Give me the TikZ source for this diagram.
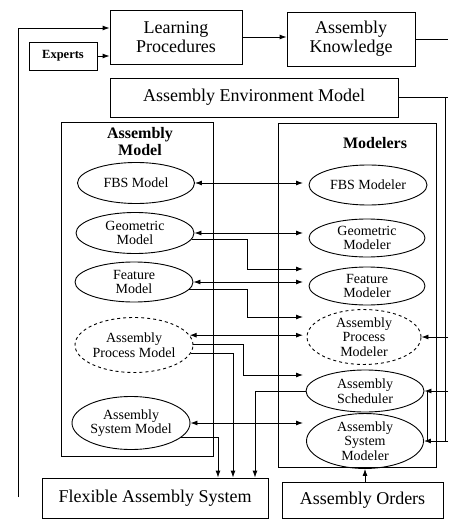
\documentclass[tikz,border=0pt]{standalone}
\usepackage{fontspec}
\setmainfont{Liberation Serif}
\usetikzlibrary{shapes.geometric,arrows.meta,calc}
\begin{document}
\begin{tikzpicture}[x=1pt,y=-1pt,
  box/.style={draw,line width=0.9pt,inner sep=0,align=center,font=\fontsize{18}{19}\selectfont},
  ell/.style={draw,ellipse,line width=0.9pt,inner sep=0,align=center,font=\fontsize{14}{14.5}\selectfont},
  grp/.style={draw,line width=0.9pt,inner sep=0},
  ttl/.style={font=\bfseries\fontsize{16}{17}\selectfont,align=center,inner sep=0},
  ln/.style={line width=0.9pt},
  arr/.style={ln,-{Latex[length=7pt,width=5pt]}},
  barr/.style={ln,{Latex[length=7pt,width=5pt]}-{Latex[length=7pt,width=5pt]}},
]
\useasboundingbox (0,0) rectangle (448,521);
\fill[white] (0,0) rectangle (448,521);

% top boxes
\node[box,minimum width=132pt,minimum height=54pt] (LP) at (176,37) {Learning\\Procedures};
\node[box,minimum width=128pt,minimum height=54pt] (AK) at (351,39) {Assembly\\Knowledge};
\node[box,font=\bfseries\fontsize{12.5}{13}\selectfont,minimum width=68pt,minimum height=28pt] (EX) at (63,56) {Experts};
\node[box,minimum width=288pt,minimum height=39pt] (AEM) at (254,97.5) {Assembly Environment Model};

% group boxes
\node[grp,minimum width=152pt,minimum height=334pt] (AM) at (137,289) {};
\node[grp,minimum width=158pt,minimum height=344pt] (MD) at (357,295) {};
\node[ttl] (AMt) at (140,142) {Assembly\\Model};
\node[ttl] (MDt) at (375,143) {Modelers};

% left ellipses
\node[ell,minimum width=117pt,minimum height=41pt] (e1) at (136,183) {FBS Model};
\node[ell,minimum width=118pt,minimum height=41pt] (e2) at (135,233) {Geometric\\Model};
\node[ell,minimum width=118pt,minimum height=40pt] (e3) at (134,282) {Feature\\Model};
\node[ell,dashed,minimum width=118pt,minimum height=55pt] (e4) at (134,345) {Assembly\\Process Model};
\node[ell,minimum width=118pt,minimum height=53pt] (e5) at (131,423) {Assembly\\System Model};

% right ellipses
\node[ell,minimum width=118pt,minimum height=40pt] (m1) at (368,185) {FBS Modeler};
\node[ell,minimum width=116pt,minimum height=38pt] (m2) at (367,238) {Geometric\\Modeler};
\node[ell,minimum width=116pt,minimum height=38pt] (m3) at (367,286) {Feature\\Modeler};
\node[ell,dashed,minimum width=114pt,minimum height=53pt] (m4) at (364,337) {Assembly\\Process\\Modeler};
\node[ell,minimum width=118pt,minimum height=42pt] (m5) at (365,391) {Assembly\\Scheduler};
\node[ell,minimum width=117pt,minimum height=48pt] (m6) at (365,441) {Assembly\\System\\Modeler};

% bottom boxes
\node[box,minimum width=226pt,minimum height=40pt] (FAS) at (155,498) {Flexible Assembly System};
\node[box,minimum width=161pt,minimum height=36pt] (AO) at (362.5,500) {Assembly Orders};

% helper coordinates
\coordinate (ax) at (303,0);
\coordinate (lb) at (18,497);
\coordinate (re) at (448,0);
\coordinate (rv) at (445,0);

% top connectors
\draw[arr] (EX.east) -- (EX.east -| LP.west);
\draw[arr] (LP.east) -- (LP.east -| AK.west);
\draw[arr] (lb) |- ($(LP.west)+(0,-9)$);
\draw[ln] (AK.east) -- (AK.east -| re);
\draw[ln] (AEM.east) -- (AEM.east -| re);
\draw[ln] (AEM.east -| rv) -- (m6.east -| rv);

% model <-> modeler
\draw[barr] (e1.east) -- (e1.east -| ax);
\draw[barr] (e2.east) -- (e2.east -| ax);
\draw[arr] (e2.-6) -| (247,269) -- (ax |- 247,269);
\draw[barr] (e3.east) -- (e3.east -| ax);
\draw[arr] (e3.-8) -| (247,317) -- (ax |- 247,317);
\draw[barr] (e4.10) -- (e4.10 -| ax);
\draw[arr] (e4.1) -| (243,375) -- (ax |- 243,375);
\draw[arr] (e4.-8) -| (FAS.north -| 233,0);
\draw[barr] (e5.east) -- (e5.east -| ax);
\draw[arr] (e5.-16) -| (FAS.north -| 218,0);
\draw[arr] (m5.west) -| (FAS.north -| 255,0);
\draw[arr] (AO.north -| m6.south) -- (m6.south);

% right side feedback
\draw[arr] (m4.east -| re) -- (m4.east);
\draw[arr] (m5.east -| re) -- (m5.east);
\draw[arr] (m6.east -| re) -- (m6.east);
\draw[ln] (m5.east -| 427,0) -- (m6.east -| 427,0);
\end{tikzpicture}
\end{document}
